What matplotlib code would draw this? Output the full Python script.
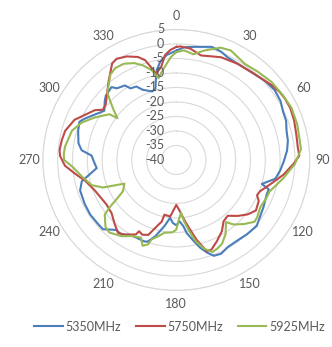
import matplotlib
matplotlib.use("Agg")
import matplotlib.pyplot as plt
import numpy as np

# angle (deg, clockwise from north) and gain (dB) for each frequency
ang_5350 = [0, 4, 9, 17, 22, 26, 32, 40, 48, 54, 60, 65, 70, 75, 80, 85, 91, 96, 101,
            106, 108, 111, 119, 130, 137, 143, 150, 155, 159, 162, 165, 168, 172, 174,
            177, 180, 183, 186, 190, 195, 199, 201, 211, 216, 220, 226, 230, 237, 244,
            252, 257, 264, 270, 273, 276, 280, 287, 292, 295, 305, 310, 313, 319, 321,
            326, 328, 332, 335, 341, 344, 346, 348, 351, 355, 360]
db_5350 = [-2.3, -1.0, -0.5, 0.8, 0.3, -0.6, -0.9, -0.5, 0.5, 1.0, 0.6, -0.3, -0.6, -1.5,
           -1.8, -2.5, -3.8, -4.8, -6.0, -10.0, -7.2, -7.3, -6.4, -4.6, -5.0, -5.4, -5.3,
           -4.3, -4.6, -6.4, -8.6, -11.3, -14.5, -17.0, -18.8, -17.5, -18.2, -19.9, -16.8,
           -12.8, -10.2, -9.9, -9.9, -8.3, -8.5, -5.6, -5.6, -5.4, -5.6, -5.9, -7.3, -13.0,
           -12.0, -11.4, -7.9, -6.5, -5.4, -4.8, -6.1, -10.4, -8.5, -7.5, -6.7, -8.2, -9.0,
           -10.9, -11.3, -13.3, -15.0, -14.5, -11.5, -8.3, -5.6, -3.6, -2.3]

ang_5750 = [0, 2, 7, 13, 23, 32, 42, 51, 56, 60, 65, 71, 78, 84, 88, 92, 98, 105, 111,
            114, 117, 123, 128, 133, 138, 143, 148, 154, 159, 162, 163, 166, 169, 172,
            176, 180, 186, 192, 193, 197, 200, 204, 207, 208, 214, 218, 223, 230, 237,
            249, 257, 262, 267, 272, 275, 280, 285, 292, 302, 305, 309, 320, 327, 330,
            335, 340, 343, 345, 347, 351, 354, 357, 360]
db_5750 = [-1.0, -0.8, -1.3, -3.0, -1.5, -0.9, -0.3, 1.2, 2.0, 2.3, 2.4, 2.0, 1.4, 1.2,
           1.5, -0.5, -3.5, -7.3, -9.8, -10.2, -8.8, -8.0, -9.5, -11.7, -14.1, -13.5,
           -11.0, -8.8, -6.9, -6.9, -8.3, -11.6, -15.5, -18.6, -22.2, -24.5, -20.4, -20.7,
           -18.2, -15.4, -12.5, -11.8, -12.4, -10.9, -8.9, -8.1, -9.6, -11.5, -11.9, -10.6,
           -8.4, -5.6, -2.4, -0.8, -0.5, -0.8, -1.2, -3.0, -7.6, -9.8, -9.4, -4.5, -0.3,
           0.3, -0.6, -2.2, -4.0, -6.8, -9.5, -7.5, -3.6, -2.0, -1.0]

ang_5925 = [0, 4, 9, 14, 21, 26, 35, 42, 50, 58, 65, 73, 79, 85, 92, 100, 109, 113, 120,
            126, 129, 134, 139, 142, 147, 152, 156, 159, 163, 167, 170, 173, 175, 178,
            180, 183, 189, 193, 197, 198, 201, 204, 210, 215, 222, 226, 232, 234, 236,
            239, 245, 249, 253, 260, 266, 270, 273, 277, 286, 292, 298, 305, 306, 309,
            312, 315, 323, 327, 332, 337, 341, 345, 348, 350, 353, 357, 360]
db_5925 = [-2.8, -2.1, -3.1, -1.1, 1.5, 2.0, 0.4, 1.0, 1.9, 2.3, 2.8, 2.6, 2.2, 2.2, 0.0,
           -3.4, -6.7, -6.9, -7.3, -6.3, -6.1, -8.2, -10.5, -12.8, -9.5, -7.2, -6.4, -6.0,
           -8.0, -11.4, -15.2, -18.7, -21.7, -19.0, -16.0, -15.0, -14.6, -13.0, -11.3, -9.4,
           -8.3, -10.7, -9.7, -7.9, -6.3, -6.8, -9.4, -12.2, -15.6, -19.0, -20.7, -13.5,
           -10.2, -7.6, -5.0, -2.2, -2.0, -2.2, -3.4, -5.6, -8.8, -12.5, -15.5, -12.9,
           -10.2, -7.1, -3.1, -2.2, -2.4, -3.7, -5.5, -7.9, -11.2, -9.8, -7.7, -4.5, -2.8]

series = [("5350MHz", ang_5350, db_5350, "#4A7EBB"),
          ("5750MHz", ang_5750, db_5750, "#BE4B48"),
          ("5925MHz", ang_5925, db_5925, "#98B954")]

r_ticks = [5, 0, -5, -10, -15, -20, -25, -30, -35, -40]
theta_ticks = list(range(0, 360, 30))

plt.rcParams['font.family'] = ['Lato', 'DejaVu Sans']
grey = "#595959"

fig = plt.figure(figsize=(3.32, 3.47), dpi=100)
ax = fig.add_axes([0.129, 0.163, 0.804, 0.752], projection='polar')
ax.set_aspect('auto')
ax.set_theta_zero_location('N')
ax.set_theta_direction(-1)

for name, a, d, c in series:
    ax.plot(np.radians(a), d, color=c, lw=1.5, label=name)

ax.set_ylim(-40, 5)
ax.set_yticks(r_ticks)
ax.set_yticklabels([])
ax.set_thetagrids(theta_ticks, [str(t) for t in theta_ticks], color=grey, fontsize=9)
ax.tick_params(axis='x', pad=-1)
ax.xaxis.grid(False)
ax.yaxis.grid(True, color="#D9D9D9", lw=0.8)
ax.spines['polar'].set_color("#D9D9D9")
ax.spines['polar'].set_linewidth(0.8)

for r in r_ticks:
    ax.annotate(str(r), xy=(0, r), xytext=(-12, 0), textcoords='offset pixels',
                ha='right', va='center', color=grey, fontsize=9)

fig.legend(loc='center', bbox_to_anchor=(0.54, 0.058), ncol=3, frameon=False,
           fontsize=9, handlelength=2.3, columnspacing=1.2, handletextpad=0.2,
           labelcolor=grey)

fig.savefig("out.png", dpi=100)
